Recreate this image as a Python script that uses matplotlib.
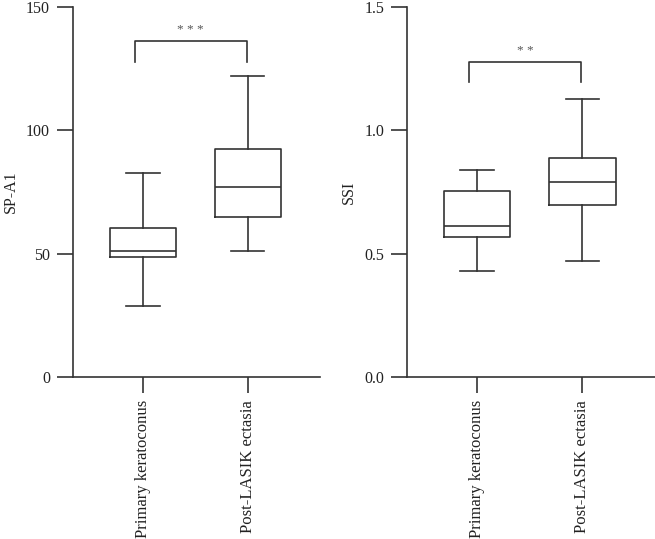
import matplotlib
matplotlib.use("Agg")
import matplotlib.pyplot as plt

plt.rcParams['font.family'] = ['Liberation Serif', 'DejaVu Serif']

groups = ["Primary keratoconus", "Post-LASIK ectasia"]

# box stats: min, q1, median, q3, max
spa1_min = [28.6, 50.9]
spa1_q1 = [48.6, 65.0]
spa1_med = [50.9, 76.9]
spa1_q3 = [60.3, 92.4]
spa1_max = [82.7, 121.9]

ssi_min = [0.431, 0.472]
ssi_q1 = [0.566, 0.697]
ssi_med = [0.611, 0.789]
ssi_q3 = [0.753, 0.886]
ssi_max = [0.841, 1.127]

# significance brackets: (bar level, leg bottom, stars level, text)
spa1_sig = (136.1, 127.8, 140.5, "* * *")
ssi_sig = (1.277, 1.197, 1.322, "* *")

col = "#333333"
lw = 1.2

fig = plt.figure(figsize=(6.55, 5.39), dpi=100)
ax1 = fig.add_axes([0.1115, 0.3006, 0.377, 0.6865])
ax2 = fig.add_axes([0.6214, 0.3006, 0.3786, 0.6865])


def draw(ax, mins, q1, med, q3, maxs, sig, ylim, yticks, ylabel, fmt):
    stats = []
    for i in range(len(groups)):
        stats.append({'whislo': mins[i], 'q1': q1[i], 'med': med[i],
                      'q3': q3[i], 'whishi': maxs[i], 'fliers': []})
    ax.bxp(stats, positions=[0, 1], widths=0.63, showfliers=False,
           boxprops=dict(color=col, linewidth=lw),
           medianprops=dict(color=col, linewidth=lw),
           whiskerprops=dict(color=col, linewidth=lw),
           capprops=dict(color=col, linewidth=lw), capwidths=0.32)
    ax.set_xlim(-0.667, 1.69)
    ax.set_ylim(*ylim)
    ax.set_yticks(yticks)
    ax.set_yticklabels([fmt.format(v) for v in yticks])
    ax.set_xticks([0, 1])
    ax.set_xticklabels(groups, rotation=90, fontsize=12)
    for s in ['top', 'right']:
        ax.spines[s].set_visible(False)
    for s in ['left', 'bottom']:
        ax.spines[s].set_color(col)
        ax.spines[s].set_linewidth(lw)
    ax.tick_params(axis='both', length=11.5, width=lw, color=col,
                   labelcolor='#222222')
    ax.tick_params(axis='y', pad=5, labelsize=11.5)
    ax.tick_params(axis='x', pad=5)
    ax.set_ylabel(ylabel, fontsize=11.5, color='#222222', labelpad=5)
    top, leg, star, txt = sig
    xa, xb = -0.08, 0.99
    ax.plot([xa, xa, xb, xb], [leg, top, top, leg], color=col, lw=lw,
            clip_on=False)
    ax.text((xa + xb) / 2, star, txt, ha='center', va='center',
            fontsize=9.5, color='#555555')


draw(ax1, spa1_min, spa1_q1, spa1_med, spa1_q3, spa1_max, spa1_sig,
     (0, 150), [0, 50, 100, 150], "SP-A1", "{:.0f}")
draw(ax2, ssi_min, ssi_q1, ssi_med, ssi_q3, ssi_max, ssi_sig,
     (0, 1.5), [0.0, 0.5, 1.0, 1.5], "SSI", "{:.1f}")

fig.savefig("out.png", dpi=100)
